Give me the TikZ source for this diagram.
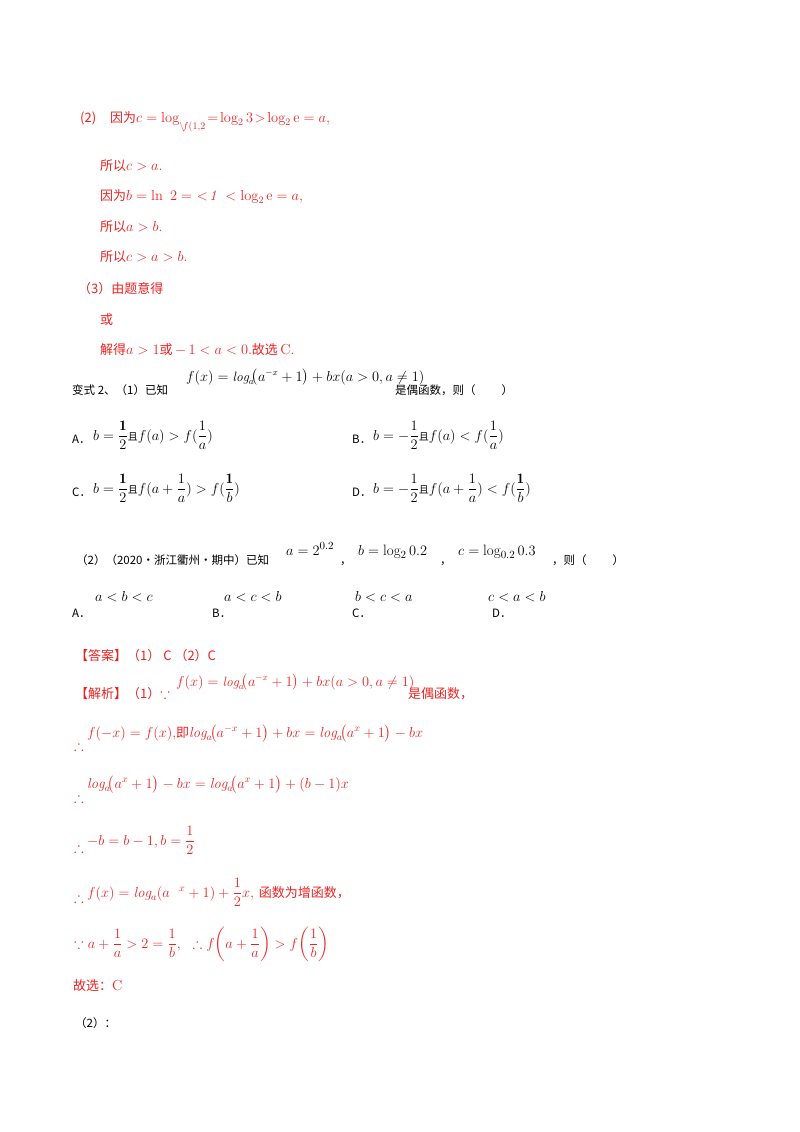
\documentclass[tikz,border=0pt]{standalone}
\usepackage{amsmath,amssymb}
\usepackage{fontspec}
\newfontfamily\cjkf{Noto Sans CJK SC}
\newcommand{\cj}[1]{{\fontsize{13}{15}\selectfont\cjkf #1}}
\newcommand{\cjs}[1]{{\fontsize{11.5}{14}\selectfont\cjkf #1}}
\newcommand{\cjq}[1]{{\fontsize{10}{12}\selectfont\cjkf #1}}
\definecolor{ansred}{RGB}{235,35,35}
\begin{document}
\begin{tikzpicture}[x=1pt,y=-1pt,
  t/.style={anchor=base west,inner sep=0pt,font=\fontsize{14.5}{17}\selectfont},
  r/.style={t,text=ansred},
  k/.style={t,text=black},
  sm/.style={font=\fontsize{13.5}{16}\selectfont},
  bg/.style={font=\fontsize{15}{17}\selectfont}]
\useasboundingbox[fill=white] (0,0) rectangle (800,1132);
% red part (2)
\node[r] (l1) at (80,122) {\cj{(2)\hspace{14pt}因为}$c=\log_{\raisebox{-4pt}{$\scriptstyle\backslash\!f(1,2$}}\!=\!\log_2 3\!>\!\log_2 \mathrm{e}=a$,};
\node[r] (l2) at (100,170) {\cj{所以}$c>a$.};
\node[r] (l3) at (100,200) {\cj{因为}$b=\ln\ 2=\ <\!\mathit{1}\ <\log_2 \mathrm{e}=a$,};
\node[r] (l4) at (100,231) {\cj{所以}$a>b$.};
\node[r] (l5) at (100,261) {\cj{所以}$c>a>b$.};
\node[r] (l6) at (78,293) {\cj{（3）由题意得}};
\node[r] (l7) at (100,324) {\cj{或}};
\node[r] (l8) at (100,354) {\cj{解得}$a>1$\cj{或}$\,-\,1<a<0$.\cj{故选}\,C.};
% question
\node[k] (q1) at (72,394) {\cjs{变式 2、（1）已知}};
\node[k,sm] (q1f) at (186,381) {$f(x)=\mathit{log}_a\!\big(a^{-x}+1\big)+bx(a>0,a\neq1)$};
\node[k] (q1e) at (395,394) {\cjs{是偶函数，则（\hspace{26pt}）}};
\node[k] (oA) at (72,443) {\cjs{A．}};
\node[k] (oAf) at (93,440) {$b=\dfrac{\mathbf 1}{2}$\cjq{且}$f(a)>f(\dfrac1a)$};
\node[k] (oB) at (352,443) {\cjs{B．}};
\node[k] (oBf) at (373,440) {$b=-\dfrac{1}{2}$\cjq{且}$f(a)<f(\dfrac1a)$};
\node[k] (oC) at (72,496) {\cjs{C．}};
\node[k] (oCf) at (93,493) {$b=\dfrac{\mathbf 1}{2}$\cjq{且}$f(a+\dfrac1a)>f(\dfrac{\mathbf 1}b)$};
\node[k] (oD) at (352,496) {\cjs{D．}};
\node[k] (oDf) at (373,493) {$b=-\dfrac{1}{2}$\cjq{且}$f(a+\dfrac1a)<f(\dfrac{\mathbf 1}b)$};
\node[k] (q2) at (76,564) {\cjs{（2）（2020·浙江衢州·期中）已知}};
\node[k,bg] (q2a) at (286,555) {$a=2^{0.2}$};
\node[k] (q2c1) at (340,564) {\cjs{，}};
\node[k,bg] (q2b) at (358,555) {$b=\log_2 0.2$};
\node[k] (q2c2) at (440,564) {\cjs{，}};
\node[k,bg] (q2cc) at (458,555) {$c=\log_{0.2} 0.3$};
\node[k] (q2e) at (552,564) {\cjs{，则（\hspace{26pt}）}};
\node[k] (pA) at (72,617) {\cjs{A．}};
\node[k,bg] (pAf) at (95,601) {$a<b<c$};
\node[k] (pB) at (212,617) {\cjs{B．}};
\node[k] (pBf) at (224,601) {$a<c<b$};
\node[k] (pC) at (352,617) {\cjs{C．}};
\node[k,bg] (pCf) at (355,601) {$b<c<a$};
\node[k] (pD) at (492,617) {\cjs{D．}};
\node[k,bg] (pDf) at (488,601) {$c<a<b$};
% answer
\node[r] (ans) at (75,660) {\cj{【答案】（1）\ C\ （2）C}};
\node[r] (jx) at (75,698) {\cj{【解析】（1）}$\because$};
\node[r,sm] (jxf) at (176,686) {$f(x)=\mathit{log}_a\!\big(a^{-x}+1\big)+bx(a>0,a\neq1)$};
\node[r] (jxe) at (408,698) {\cj{是偶函数，}};
\node[r] (s1d) at (74,750) {$\therefore$};
\node[r] (s1) at (87,737) {$f(-x)=f(x)$,\cj{即}$\mathit{log}_a\!\big(a^{-x}+1\big)+bx=\mathit{log}_a\!\big(a^{x}+1\big)-bx$};
\node[r] (s2d) at (74,802) {$\therefore$};
\node[r] (s2) at (87,788) {$\mathit{log}_a\!\big(a^{x}+1\big)-bx=\mathit{log}_a\!\big(a^{x}+1\big)+(b-1)x$};
\node[r] (s3d) at (74,852) {$\therefore$};
\node[r] (s3) at (87,845) {$-b=b-1,b=\dfrac12$};
\node[r] (s4d) at (74,902) {$\therefore$};
\node[r] (s4) at (87,897) {$f(x)=\mathit{log}_a(a\ \ ^{x}+1)+\dfrac12x$,\ \cj{函数为增函数，}};
\node[r] (s5) at (74,948) {$\because a+\dfrac1a>2=\dfrac1b,\ \ \therefore f\!\left(a+\dfrac1a\right)>f\!\left(\dfrac1b\right)$};
\node[r] (gx) at (73,990) {\cj{故选：}C};
\node[k] (p2) at (75,1027) {\cjs{（2）：}};
\end{tikzpicture}
\end{document}
